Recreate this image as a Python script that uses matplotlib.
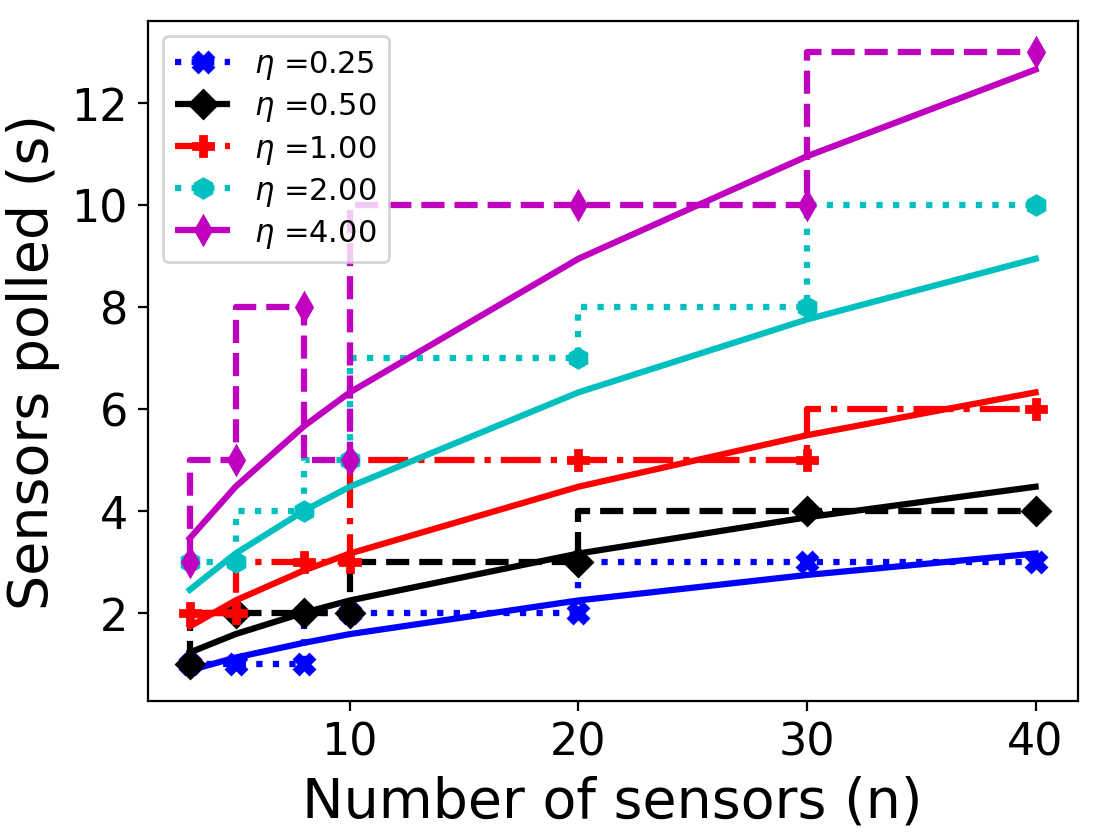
import numpy as np
import matplotlib
matplotlib.use('Agg')
import matplotlib.pyplot as plt

n = [3, 5, 8, 10, 20, 30, 40]
etas = [0.25, 0.5, 1.0, 2.0, 4.0]

# sensors polled (measured, step lines)
polled = [
    [1, 1, 1, 2, 2, 3, 3],
    [1, 2, 2, 2, 3, 4, 4],
    [2, 2, 3, 3, 5, 5, 6],
    [3, 3, 4, 5, 7, 8, 10],
    [3, 5, 8, 5, 10, 10, 13],
]
# smooth reference curves
curve = [
    [0.87, 1.12, 1.41, 1.58, 2.24, 2.74, 3.16],
    [1.22, 1.58, 2.00, 2.24, 3.16, 3.87, 4.47],
    [1.73, 2.24, 2.83, 3.16, 4.47, 5.48, 6.32],
    [2.45, 3.16, 4.00, 4.47, 6.32, 7.75, 8.94],
    [3.46, 4.47, 5.66, 6.32, 8.94, 10.95, 12.65],
]

colors = ['b', 'k', 'r', 'c', 'm']
markers = ['X', 'D', 'P', 'h', 'd']
styles = [':', '--', '-.', ':', '--']

fig, ax = plt.subplots(figsize=(5.505, 4.185), dpi=200)
fig.subplots_adjust(left=0.134, right=0.979, bottom=0.161, top=0.974)

for i, eta in enumerate(etas):
    ax.plot(n, polled[i], color=colors[i], marker=markers[i], linestyle=styles[i],
            drawstyle='steps-pre', lw=2.25, ms=7, label=r'$\eta$ =%.2f' % eta)
    ax.plot(n, curve[i], color=colors[i], lw=2.25)

ax.set_xlabel('Number of sensors (n)', fontsize=20)
ax.set_ylabel('Sensors polled (s)', fontsize=20)
ax.tick_params(labelsize=16)
ax.set_xticks([10, 20, 30, 40])
ax.legend(loc='upper left', fontsize=11, labelspacing=0.3, handlelength=1.8)

fig.savefig('out.png', dpi=200)
